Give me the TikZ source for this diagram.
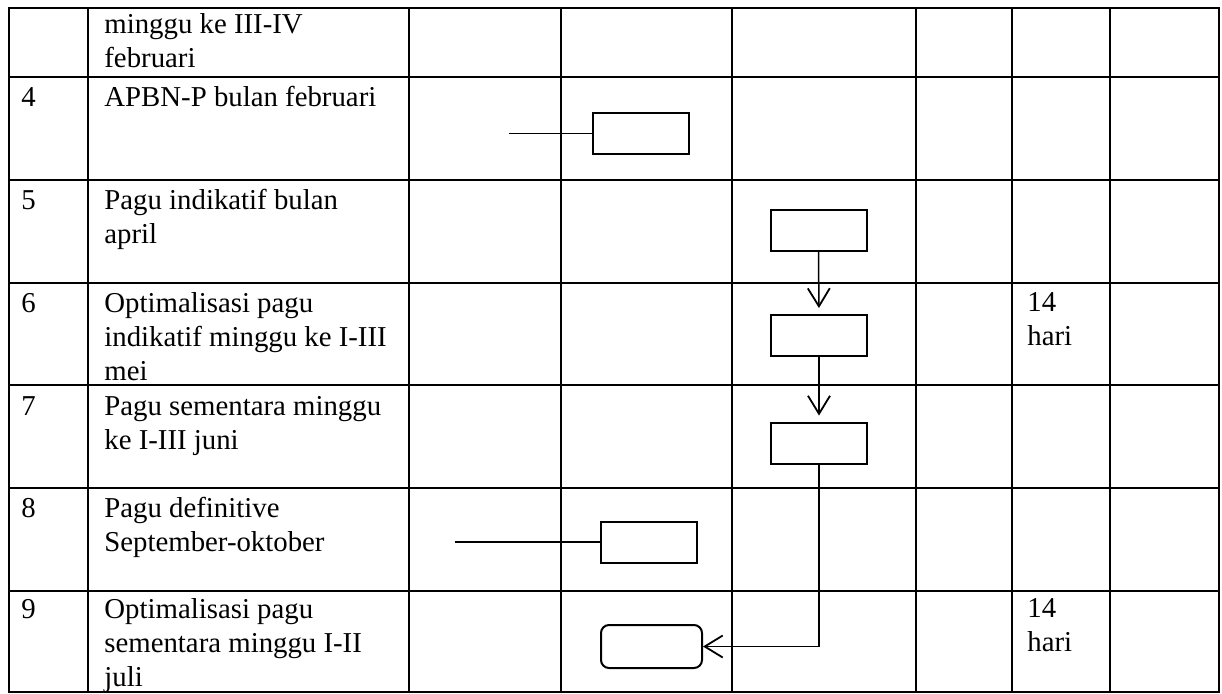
\documentclass[tikz,border=0pt]{standalone}
\usepackage{fontspec}
\setmainfont{Liberation Serif}
\usetikzlibrary{arrows.meta}
\newcommand{\cellfont}{\fontsize{14.4pt}{17.2pt}\selectfont}
\newcommand{\celltext}[1]{\begin{tabular}[t]{@{}l@{}}#1\end{tabular}}
\begin{document}
\begin{tikzpicture}[x=0.5pt,y=-0.5pt,
  grid/.style={line width=0.85pt,line cap=rect},
  txt/.style={anchor=base west,inner sep=0pt,font=\cellfont},
  box/.style={draw,line width=1pt,minimum width=48pt,minimum height=20.5pt,inner sep=0pt},
  rbox/.style={box,rounded corners=4pt,minimum width=50.5pt,minimum height=21.5pt},
  link/.style={line width=0.75pt},
  arr/.style={link,-{Straight Barb[length=9pt,width=11pt,line width=0.9pt]}}]
\useasboundingbox (0,0) rectangle (1222,693);
\fill[white] (0,0) rectangle (1222,693);
% table grid
\foreach \x in {9,88,409,561,732,916,1012,1110,1219}
  \draw[grid] (\x,8) -- (\x,692);
\foreach \y in {8,77,180,283,385,488,591,692}
  \draw[grid] (9,\y) -- (1219,\y);
% row texts
\node[txt] (t3) at (104,33) {\celltext{minggu ke III-IV\\februari}};
\node[txt] (n4) at (21,106) {4};
\node[txt] (t4) at (104,106) {\celltext{APBN-P bulan februari}};
\node[txt] (n5) at (21,209) {5};
\node[txt] (t5) at (104,209) {\celltext{Pagu indikatif bulan\\april}};
\node[txt] (n6) at (21,312) {6};
\node[txt] (t6) at (104,312) {\celltext{Optimalisasi pagu\\indikatif minggu ke I-III\\mei}};
\node[txt] (d6) at (1027,311) {\celltext{14\\hari}};
\node[txt] (n7) at (21,415) {7};
\node[txt] (t7) at (104,415) {\celltext{Pagu sementara minggu\\ke I-III juni}};
\node[txt] (n8) at (21,517) {8};
\node[txt] (t8) at (104,517) {\celltext{Pagu definitive\\September-oktober}};
\node[txt] (n9) at (21,618) {9};
\node[txt] (t9) at (104,618) {\celltext{Optimalisasi pagu\\sementara minggu I-II\\juli}};
\node[txt] (d9) at (1027,617) {\celltext{14\\hari}};
% flow boxes
\node[box] (b4) at (641,133.5) {};
\node[box] (b5) at (818.5,230) {};
\node[box] (b6) at (819,335.5) {};
\node[box] (b7) at (819,443) {};
\node[box] (b8) at (649,542) {};
\node[rbox] (b9) at (651.5,646.5) {};
\coordinate (s4) at (509,133.5);
\coordinate (s8) at (455,542);
% connectors
\draw[link] (s4) -- (b4.west);
\draw[link] (s8) -- (b8.west);
\draw[arr,shorten >=3pt] (b5.south) -- (b6.north);
\draw[arr,shorten >=3pt] (b6.south) -- (b7.north);
\draw[arr] (b7.south) |- (b9.east);
\end{tikzpicture}
\end{document}
